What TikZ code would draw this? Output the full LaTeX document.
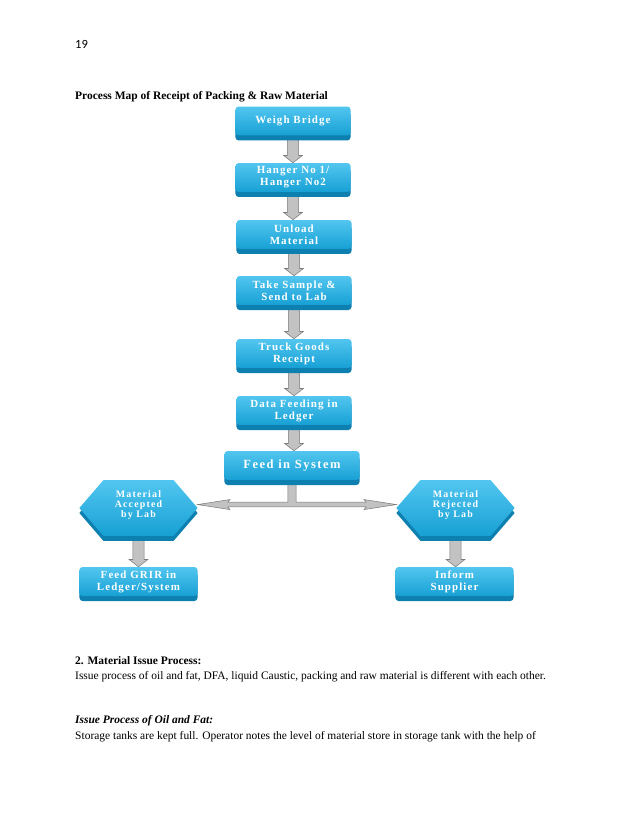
\documentclass[tikz,border=0pt]{standalone}
\usepackage{fontspec}
\setmainfont{Liberation Serif}
\newfontfamily\numfont{Carlito}
\newfontfamily\boxfont[LetterSpace=10]{Liberation Serif}
\newfontfamily\hexfont[LetterSpace=12]{Liberation Serif}
\usetikzlibrary{shadows,backgrounds,calc}
\definecolor{facetop}{HTML}{52C6F0}
\definecolor{facebot}{HTML}{17A0D4}
\definecolor{bevel}{HTML}{0E80B0}
\definecolor{arrfill}{HTML}{C2C2C2}
\definecolor{arrdraw}{HTML}{7A7A7A}
\begin{document}
\begin{tikzpicture}[x=0.959pt,y=-0.959pt,
  pbox/.style={shape=rectangle, rounded corners=3pt, minimum width=110.3pt,
    minimum height=27.8pt, inner sep=0pt, align=center, text=white,
    top color=facetop, bottom color=facebot,
    font=\boxfont\bfseries\fontsize{10.5}{11.5}\selectfont,
    drop shadow={shadow xshift=0pt, shadow yshift=-4.8pt, fill=bevel, opacity=1}},
  hexlabel/.style={shape=rectangle, minimum width=113pt, minimum height=53pt,
    inner sep=0pt, align=center, text=white,
    font=\hexfont\bfseries\fontsize{9.5}{9.8}\selectfont},
  hexface/.style={top color=facetop, bottom color=facebot},
  hexbevel/.style={fill=bevel},
  blockarr/.style={fill=arrfill, draw=arrdraw, line width=0.5pt,
    to path={let \p1=(\tikztostart), \p2=(\tikztotarget) in
      (\x1-5.3pt,\y1) -- (\x1+5.3pt,\y1) -- (\x1+5.3pt,\y2+7pt)
      -- (\x1+9pt,\y2+7pt) -- (\x1,\y2) -- (\x1-9pt,\y2+7pt)
      -- (\x1-5.3pt,\y2+7pt) -- cycle}},
  bodytext/.style={anchor=base west, inner sep=0pt, font=\fontsize{11}{13}\selectfont}
]
\useasboundingbox (0,0) rectangle (638,826);

\node[anchor=base west, inner sep=0pt, font=\numfont\fontsize{12}{14}\selectfont] (pg) at (75,49) {19};
\node[bodytext, font=\bfseries\fontsize{11}{13}\selectfont] (title) at (75,100) {Process Map of Receipt of Packing \& Raw Material};

\node[pbox] (b1) at (293,121) {Weigh Bridge};
\node[pbox] (b2) at (293,177.5) {Hanger No 1/\\Hanger No2};
\node[pbox] (b3) at (294,234.5) {Unload\\Material};
\node[pbox] (b4) at (294,290.5) {Take Sample \&\\Send to Lab};
\node[pbox] (b5) at (294,353.5) {Truck Goods\\Receipt};
\node[pbox] (b6) at (294,410.5) {Data Feeding in\\Ledger};
\node[pbox, minimum width=129.5pt, font=\hexfont\bfseries\fontsize{12}{13}\selectfont] (b7) at (292,465.5) {Feed in System};

\node[hexlabel] (hl) at (138.5,508) {};
\node[hexlabel] (hr) at (455.5,508) {};
\node[hexlabel, minimum height=0pt] (hlt) at (138.5,505) {Material\\Accepted\\by Lab};
\node[hexlabel, minimum height=0pt] (hrt) at (455.5,505) {Material\\Rejected\\by Lab};

\node[pbox, minimum width=113.2pt] (bl) at (138.5,581.5) {Feed GRIR in\\Ledger/System};
\node[pbox, minimum width=113.2pt] (br) at (454.5,581.5) {Inform\\Supplier};

\begin{pgfonlayer}{background}
  \fill[white] (0,0) rectangle (638,826);
  \draw[blockarr] (b1.south) to (b2.north);
  \draw[blockarr] (b2.south) to (b3.north);
  \draw[blockarr] (b3.south) to (b4.north);
  \draw[blockarr] (b4.south) to (b5.north);
  \draw[blockarr] (b5.south) to (b6.north);
  \draw[blockarr] (b6.south) to (b7.north);
  \draw[blockarr] (hl.south) to (bl.north);
  \draw[blockarr] (hr.south) to (br.north);
  % stem and double arrow
  \draw[fill=arrfill, draw=arrdraw, line width=0.5pt]
    let \p1=(hl.east), \p2=(hr.west), \p3=(b7.south), \n1={\y1+3.3pt} in
    (\x1,\n1) -- (\x1+31pt,\n1+4.8pt) -- (\x1+29pt,\n1+2.3pt)
    -- (\x3-4pt,\n1+2.3pt) -- (\x3-4pt,\y3) -- (\x3+4pt,\y3) -- (\x3+4pt,\n1+2.3pt)
    -- (\x2-29pt,\n1+2.3pt) -- (\x2-31pt,\n1+4.8pt) -- (\x2,\n1)
    -- (\x2-31pt,\n1-4.8pt) -- (\x2-29pt,\n1-2.3pt) -- (\x1+29pt,\n1-2.3pt)
    -- (\x1+31pt,\n1-4.8pt) -- cycle;
  % hexagons
  \foreach \h in {hl,hr}{
    \path[hexbevel] ([yshift=-4.8pt]\h.west) -- ([xshift=23pt,yshift=-4.8pt]\h.north west)
      -- ([xshift=-23pt,yshift=-4.8pt]\h.north east) -- ([yshift=-4.8pt]\h.east)
      -- ([xshift=-23pt,yshift=-4.8pt]\h.south east) -- ([xshift=23pt,yshift=-4.8pt]\h.south west) -- cycle;
    \path[hexface] (\h.west) -- ([xshift=23pt]\h.north west)
      -- ([xshift=-23pt]\h.north east) -- (\h.east)
      -- ([xshift=-23pt]\h.south east) -- ([xshift=23pt]\h.south west) -- cycle;
  }
\end{pgfonlayer}

\node[bodytext, font=\bfseries\fontsize{11}{13}\selectfont] (h2) at (75,664) {2. Material Issue Process:};
\node[bodytext] (p1) at (75,679) {Issue process of oil and fat, DFA, liquid Caustic, packing and raw material is different with each other.};
\node[bodytext, font=\bfseries\itshape\fontsize{11}{13}\selectfont] (h3) at (75,723) {Issue Process of Oil and Fat:};
\node[bodytext] (p2) at (75,739) {Storage tanks are kept full. Operator notes the level of material store in storage tank with the help of};
\end{tikzpicture}
\end{document}
